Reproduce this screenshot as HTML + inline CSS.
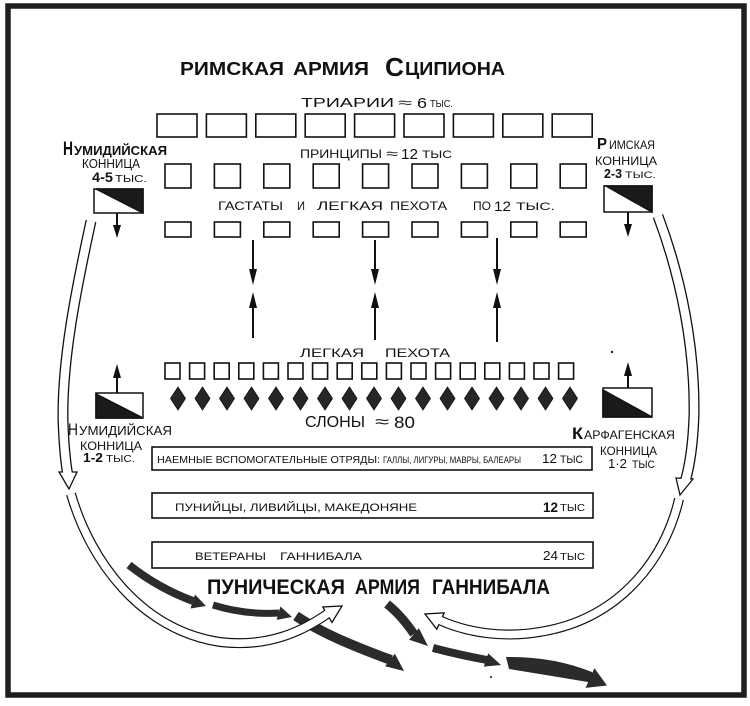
<!DOCTYPE html>
<html>
<head>
<meta charset="utf-8">
<style>
  html,body{margin:0;padding:0;background:#fff;}
  svg{display:block;}
  text{font-family:"Liberation Sans","DejaVu Sans",sans-serif;fill:#111;}
</style>
</head>
<body>
<svg width="750" height="706" viewBox="0 0 750 706" xmlns="http://www.w3.org/2000/svg">
  <rect x="0" y="0" width="750" height="706" fill="#fff"/>
  <!-- frame -->
  <rect x="8" y="6" width="736" height="689" fill="none" stroke="#1e1e1e" stroke-width="5.5"/>

  <!-- Title -->
  <g font-weight="bold" font-size="18">
    <text x="180" y="75" textLength="104" lengthAdjust="spacingAndGlyphs">РИМСКАЯ</text>
    <text x="293" y="75" textLength="76" lengthAdjust="spacingAndGlyphs">АРМИЯ</text>
    <text x="385" y="76" font-size="26" textLength="19" lengthAdjust="spacingAndGlyphs">С</text>
    <text x="405" y="75" textLength="100" lengthAdjust="spacingAndGlyphs">ЦИПИОНА</text>
  </g>

  <!-- Row labels -->
  <text x="301" y="107" font-size="12.5" textLength="93" lengthAdjust="spacingAndGlyphs">ТРИАРИИ</text>
  <text x="398" y="107" font-size="13" textLength="14" lengthAdjust="spacingAndGlyphs">≈</text>
  <text x="417" y="108" font-size="15" textLength="10" lengthAdjust="spacingAndGlyphs">6</text>
  <text x="430" y="107" font-size="10" textLength="23" lengthAdjust="spacingAndGlyphs">ТЫС.</text>

  <text x="300" y="158" font-size="12" textLength="82" lengthAdjust="spacingAndGlyphs">ПРИНЦИПЫ</text>
  <text x="386" y="158" font-size="13" textLength="12" lengthAdjust="spacingAndGlyphs">≈</text>
  <text x="401" y="159" font-size="15" textLength="17" lengthAdjust="spacingAndGlyphs">12</text>
  <text x="422" y="158" font-size="11" textLength="30" lengthAdjust="spacingAndGlyphs">ТЫС</text>

  <g font-size="12">
    <text x="218" y="210" textLength="65" lengthAdjust="spacingAndGlyphs">ГАСТАТЫ</text>
    <text x="297" y="210" textLength="8" lengthAdjust="spacingAndGlyphs">И</text>
    <text x="317" y="210" textLength="66" lengthAdjust="spacingAndGlyphs">ЛЕГКАЯ</text>
    <text x="390" y="210" textLength="57" lengthAdjust="spacingAndGlyphs">ПЕХОТА</text>
    <text x="473" y="210" textLength="18" lengthAdjust="spacingAndGlyphs">ПО</text>
    <text x="494" y="211" font-size="14" textLength="17" lengthAdjust="spacingAndGlyphs">12</text>
    <text x="516" y="210" font-size="11" textLength="39" lengthAdjust="spacingAndGlyphs">ТЫС.</text>
  </g>

  <!-- Triarii boxes -->
  <g fill="none" stroke="#111" stroke-width="1.6">
    <rect x="157" y="114" width="40" height="23"/>
    <rect x="206.4" y="114" width="40" height="23"/>
    <rect x="255.8" y="114" width="40" height="23"/>
    <rect x="305.2" y="114" width="40" height="23"/>
    <rect x="354.6" y="114" width="40" height="23"/>
    <rect x="404" y="114" width="40" height="23"/>
    <rect x="453.4" y="114" width="40" height="23"/>
    <rect x="502.8" y="114" width="40" height="23"/>
    <rect x="552.2" y="114" width="40" height="23"/>
    <!-- Principes -->
    <rect x="165" y="164" width="26" height="24"/>
    <rect x="214.4" y="164" width="26" height="24"/>
    <rect x="263.8" y="164" width="26" height="24"/>
    <rect x="313.2" y="164" width="26" height="24"/>
    <rect x="362.6" y="164" width="26" height="24"/>
    <rect x="412" y="164" width="26" height="24"/>
    <rect x="461.4" y="164" width="26" height="24"/>
    <rect x="510.8" y="164" width="26" height="24"/>
    <rect x="560.2" y="164" width="26" height="24"/>
    <!-- Hastati -->
    <rect x="165" y="222" width="26" height="15"/>
    <rect x="214.4" y="222" width="26" height="15"/>
    <rect x="263.8" y="222" width="26" height="15"/>
    <rect x="313.2" y="222" width="26" height="15"/>
    <rect x="362.6" y="222" width="26" height="15"/>
    <rect x="412" y="222" width="26" height="15"/>
    <rect x="461.4" y="222" width="26" height="15"/>
    <rect x="510.8" y="222" width="26" height="15"/>
    <rect x="560.2" y="222" width="26" height="15"/>
    <!-- Light infantry -->
    <rect x="165" y="363" width="15" height="16"/>
    <rect x="189.6" y="363" width="15" height="16"/>
    <rect x="214.2" y="363" width="15" height="16"/>
    <rect x="238.8" y="363" width="15" height="16"/>
    <rect x="263.4" y="363" width="15" height="16"/>
    <rect x="288" y="363" width="15" height="16"/>
    <rect x="312.6" y="363" width="15" height="16"/>
    <rect x="337.2" y="363" width="15" height="16"/>
    <rect x="361.8" y="363" width="15" height="16"/>
    <rect x="386.4" y="363" width="15" height="16"/>
    <rect x="411" y="363" width="15" height="16"/>
    <rect x="435.6" y="363" width="15" height="16"/>
    <rect x="460.2" y="363" width="15" height="16"/>
    <rect x="484.8" y="363" width="15" height="16"/>
    <rect x="509.4" y="363" width="15" height="16"/>
    <rect x="534" y="363" width="15" height="16"/>
    <rect x="558.6" y="363" width="15" height="16"/>
    <!-- Carthaginian line boxes -->
    <rect x="152" y="447" width="440" height="23"/>
    <rect x="152" y="493" width="441" height="25"/>
    <rect x="152" y="542" width="441" height="26"/>
  </g>

  <!-- Elephants -->
  <g fill="#262626" stroke="#111" stroke-width="0.8">
    <path d="M178,387 l7.5,11.5 l-7.5,11.5 l-7.5,-11.5 z"/>
    <path d="M202.5,387 l7.5,11.5 l-7.5,11.5 l-7.5,-11.5 z"/>
    <path d="M227,387 l7.5,11.5 l-7.5,11.5 l-7.5,-11.5 z"/>
    <path d="M251.5,387 l7.5,11.5 l-7.5,11.5 l-7.5,-11.5 z"/>
    <path d="M276,387 l7.5,11.5 l-7.5,11.5 l-7.5,-11.5 z"/>
    <path d="M300.5,387 l7.5,11.5 l-7.5,11.5 l-7.5,-11.5 z"/>
    <path d="M325,387 l7.5,11.5 l-7.5,11.5 l-7.5,-11.5 z"/>
    <path d="M349.5,387 l7.5,11.5 l-7.5,11.5 l-7.5,-11.5 z"/>
    <path d="M374,387 l7.5,11.5 l-7.5,11.5 l-7.5,-11.5 z"/>
    <path d="M398.5,387 l7.5,11.5 l-7.5,11.5 l-7.5,-11.5 z"/>
    <path d="M423,387 l7.5,11.5 l-7.5,11.5 l-7.5,-11.5 z"/>
    <path d="M447.5,387 l7.5,11.5 l-7.5,11.5 l-7.5,-11.5 z"/>
    <path d="M472,387 l7.5,11.5 l-7.5,11.5 l-7.5,-11.5 z"/>
    <path d="M496.5,387 l7.5,11.5 l-7.5,11.5 l-7.5,-11.5 z"/>
    <path d="M521,387 l7.5,11.5 l-7.5,11.5 l-7.5,-11.5 z"/>
    <path d="M545.5,387 l7.5,11.5 l-7.5,11.5 l-7.5,-11.5 z"/>
    <path d="M570,387 l7.5,11.5 l-7.5,11.5 l-7.5,-11.5 z"/>
  </g>

  <text x="300" y="357" font-size="12" textLength="64" lengthAdjust="spacingAndGlyphs">ЛЕГКАЯ</text>
  <text x="385" y="357" font-size="12" textLength="65" lengthAdjust="spacingAndGlyphs">ПЕХОТА</text>

  <text x="305" y="427" font-size="16" textLength="60" lengthAdjust="spacingAndGlyphs">СЛОНЫ</text>
  <text x="375" y="427" font-size="16" textLength="14" lengthAdjust="spacingAndGlyphs">≈</text>
  <text x="394" y="428" font-size="17" textLength="21" lengthAdjust="spacingAndGlyphs">80</text>

  <!-- Middle arrows -->
  <g stroke="#111" stroke-width="2">
    <line x1="253" y1="240" x2="253" y2="272"/>
    <line x1="375" y1="240" x2="375" y2="272"/>
    <line x1="497" y1="238" x2="497" y2="272"/>
    <line x1="253" y1="305" x2="253" y2="338"/>
    <line x1="375" y1="305" x2="375" y2="340"/>
    <line x1="497" y1="305" x2="497" y2="342"/>
    <line x1="117" y1="213" x2="117" y2="227"/>
    <line x1="628" y1="212" x2="628" y2="226"/>
    <line x1="117" y1="376" x2="117" y2="393"/>
    <line x1="628" y1="374" x2="628" y2="388"/>
  </g>
  <g fill="#111">
    <polygon points="249,269 257,269 253,285"/>
    <polygon points="371,269 379,269 375,285"/>
    <polygon points="493,269 501,269 497,285"/>
    <polygon points="249,308 257,308 253,292"/>
    <polygon points="371,308 379,308 375,292"/>
    <polygon points="493,308 501,308 497,292"/>
    <polygon points="113,225 121,225 117,238"/>
    <polygon points="624,224 632,224 628,237"/>
    <polygon points="113,378 121,378 117,364"/>
    <polygon points="624,376 632,376 628,362"/>
  </g>

  <!-- Cavalry boxes -->
  <g stroke="#111" stroke-width="1.5">
    <rect x="94" y="189" width="49" height="24" fill="#fff"/>
    <polygon points="96,189 143,189 143,213" fill="#1a1a1a"/>
    <rect x="604" y="186" width="48" height="26" fill="#fff"/>
    <polygon points="606,186 652,186 652,212" fill="#1a1a1a"/>
    <rect x="96" y="393" width="47" height="25" fill="#fff"/>
    <polygon points="96,394 96,418 143,418" fill="#1a1a1a"/>
    <rect x="603" y="388" width="49" height="29" fill="#fff"/>
    <polygon points="603,390 603,417 652,417" fill="#1a1a1a"/>
  </g>

  <!-- Cavalry labels -->
  <g font-size="13">
    <text x="63" y="155" font-size="19" font-weight="bold" textLength="10" lengthAdjust="spacingAndGlyphs">Н</text>
    <text x="74" y="155" font-weight="bold" textLength="93" lengthAdjust="spacingAndGlyphs">УМИДИЙСКАЯ</text>
    <text x="82" y="168" textLength="58" lengthAdjust="spacingAndGlyphs">КОННИЦА</text>
    <text x="92" y="182" font-size="14" font-weight="bold" textLength="21" lengthAdjust="spacingAndGlyphs">4-5</text>
    <text x="115" y="182" font-size="10" textLength="32" lengthAdjust="spacingAndGlyphs">ТЫС.</text>

    <text x="597" y="149" font-size="16" font-weight="bold" textLength="10" lengthAdjust="spacingAndGlyphs">Р</text>
    <text x="609" y="149" font-size="12" textLength="46" lengthAdjust="spacingAndGlyphs">ИМСКАЯ</text>
    <text x="595" y="165" font-size="12" textLength="62" lengthAdjust="spacingAndGlyphs">КОННИЦА</text>
    <text x="604" y="178" font-weight="bold" textLength="18" lengthAdjust="spacingAndGlyphs">2-3</text>
    <text x="625" y="178" font-size="9.5" textLength="31" lengthAdjust="spacingAndGlyphs">ТЫС.</text>

    <text x="68" y="435" font-size="17" textLength="10" lengthAdjust="spacingAndGlyphs">Н</text>
    <text x="79" y="435" textLength="93" lengthAdjust="spacingAndGlyphs">УМИДИЙСКАЯ</text>
    <text x="80" y="450" font-size="12" textLength="62" lengthAdjust="spacingAndGlyphs">КОННИЦА</text>
    <text x="83" y="462" font-weight="bold" textLength="20" lengthAdjust="spacingAndGlyphs">1-2</text>
    <text x="106" y="462" font-size="10" textLength="29" lengthAdjust="spacingAndGlyphs">ТЫС.</text>

    <text x="572" y="439" font-size="17" font-weight="bold" textLength="11" lengthAdjust="spacingAndGlyphs">К</text>
    <text x="584" y="439" font-size="12" textLength="91" lengthAdjust="spacingAndGlyphs">АРФАГЕНСКАЯ</text>
    <text x="600" y="455" font-size="12" textLength="57" lengthAdjust="spacingAndGlyphs">КОННИЦА</text>
    <text x="608" y="468" textLength="19" lengthAdjust="spacingAndGlyphs">1·2</text>
    <text x="632" y="468" font-size="11" textLength="23" lengthAdjust="spacingAndGlyphs">ТЫС</text>
  </g>

  <!-- Box texts -->
  <text x="157" y="463" font-size="10.5" textLength="223" lengthAdjust="spacingAndGlyphs">НАЕМНЫЕ ВСПОМОГАТЕЛЬНЫЕ ОТРЯДЫ:</text>
  <text x="383" y="463" font-size="9" textLength="138" lengthAdjust="spacingAndGlyphs">ГАЛЛЫ, ЛИГУРЫ, МАВРЫ, БАЛЕАРЫ</text>
  <text x="542" y="463" font-size="13" textLength="15" lengthAdjust="spacingAndGlyphs">12</text>
  <text x="560" y="463" font-size="11" textLength="23" lengthAdjust="spacingAndGlyphs">ТЫС</text>

  <text x="175" y="511" font-size="11" textLength="242" lengthAdjust="spacingAndGlyphs">ПУНИЙЦЫ, ЛИВИЙЦЫ, МАКЕДОНЯНЕ</text>
  <text x="543" y="512" font-size="14" font-weight="bold" textLength="15" lengthAdjust="spacingAndGlyphs">12</text>
  <text x="560" y="511" font-size="10" textLength="25" lengthAdjust="spacingAndGlyphs">ТЫС</text>

  <text x="195" y="560" font-size="11" textLength="71" lengthAdjust="spacingAndGlyphs">ВЕТЕРАНЫ</text>
  <text x="280" y="560" font-size="11" textLength="82" lengthAdjust="spacingAndGlyphs">ГАННИБАЛА</text>
  <text x="543" y="560" font-size="13" textLength="15" lengthAdjust="spacingAndGlyphs">24</text>
  <text x="560" y="560" font-size="10" textLength="25" lengthAdjust="spacingAndGlyphs">ТЫС</text>

  <!-- Punic army title -->
  <g font-size="21" font-weight="bold">
    <text x="207" y="594" textLength="138" lengthAdjust="spacingAndGlyphs">ПУНИЧЕСКАЯ</text>
    <text x="355" y="594" textLength="65" lengthAdjust="spacingAndGlyphs">АРМИЯ</text>
    <text x="432" y="594" textLength="118" lengthAdjust="spacingAndGlyphs">ГАННИБАЛА</text>
  </g>

  <!-- Dark fleeing arrows -->
  <g fill="none" stroke="#2b2b2b" stroke-linecap="butt">
    <path d="M129,565 Q158,588 193,601" stroke-width="8"/>
    <path d="M213,605 Q245,615 279,613" stroke-width="7"/>
    <path d="M296,616 C320,632 350,645 391,660" stroke-width="10"/>
    <path d="M387,604 Q401,615 414,634" stroke-width="9"/>
    <path d="M433,648 Q460,655 487,660" stroke-width="8"/>
  </g>
  <g fill="#2b2b2b">
    <polygon points="206,606 190.5,608.5 195,594.5"/>
    <polygon points="292,617 276.6,619.9 280.4,606.5"/>
    <polygon points="404,671 385.1,666.3 394.9,653.7"/>
    <polygon points="428,646 409.1,639.7 418.9,628.3"/>
    <polygon points="501,665 483.8,666.6 488.2,653.4"/>
    <path d="M506,657 Q552,656 592,672 L594,683 Q552,676 509,669 Z"/>
    <polygon points="594.4,668.1 607,685.5 585.6,687.9"/>
  </g>

  <!-- Hollow cavalry bands -->
  <g fill="none" stroke-linecap="butt">
    <!-- left upper -->
    <path d="M91,221 C76,290 62,360 63,420 C64,450 66,465 68,476" stroke="#111" stroke-width="11"/>
    <polygon points="59,472 77,472 69,489" fill="#fff" stroke="#111" stroke-width="1.3"/>
    <path d="M91,221 C76,290 62,360 63,420 C64,450 66,465 68,476" stroke="#fff" stroke-width="8.4"/>
    <!-- right upper -->
    <path d="M658,216 C682,280 695,350 694,415 C693,445 690,465 685,482" stroke="#111" stroke-width="11"/>
    <polygon points="676,478 693,479 680,495" fill="#fff" stroke="#111" stroke-width="1.3"/>
    <path d="M658,216 C682,280 695,350 694,415 C693,445 690,465 685,482" stroke="#fff" stroke-width="8.4"/>
    <!-- left lower -->
    <path d="M71,494 C90,560 140,630 220,642 C270,648 305,630 330,612" stroke="#111" stroke-width="10"/>
    <polygon points="332,622.4 322.8,607 342,606" fill="#fff" stroke="#111" stroke-width="1.3"/>
    <path d="M71,494 C90,560 140,630 220,642 C270,648 305,630 330,612" stroke="#fff" stroke-width="7.6"/>
    <!-- right lower -->
    <path d="M679,499 C665,560 620,615 550,630 C505,640 465,632 438,619.5" stroke="#111" stroke-width="10"/>
    <polygon points="444.2,612.8 436.8,629.2 425,614" fill="#fff" stroke="#111" stroke-width="1.3"/>
    <path d="M679,499 C665,560 620,615 550,630 C505,640 465,632 438,619.5" stroke="#fff" stroke-width="7.6"/>
  </g>

  <circle cx="612" cy="352" r="1.2" fill="#222"/>
  <circle cx="491" cy="677" r="1" fill="#222"/>
</svg>
</body>
</html>
